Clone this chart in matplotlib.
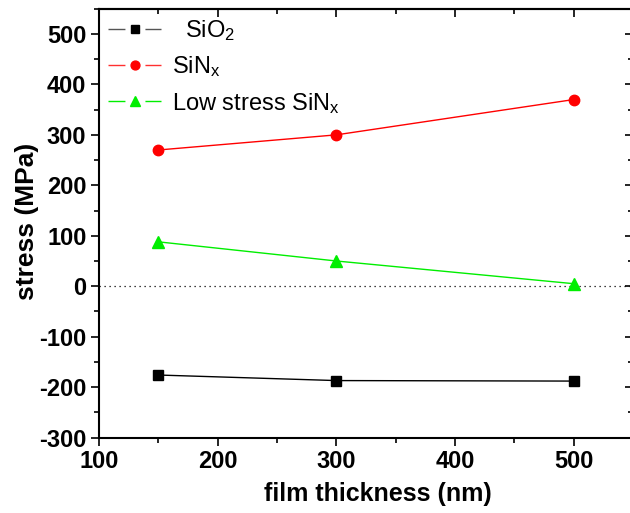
import numpy as np
import matplotlib
matplotlib.use("Agg")
import matplotlib.pyplot as plt
from matplotlib.ticker import MultipleLocator
from matplotlib.lines import Line2D
from matplotlib.legend_handler import HandlerTuple

plt.rcParams['font.family'] = ['Liberation Sans', 'DejaVu Sans']
plt.rcParams['mathtext.fontset'] = 'custom'
plt.rcParams['mathtext.rm'] = 'Liberation Sans'
plt.rcParams['mathtext.it'] = 'Liberation Sans'
plt.rcParams['axes.unicode_minus'] = False

# film thickness (nm)
thickness = [150, 300, 500]
# stress (MPa)
sio2 = [-176, -187, -188]
sinx = [270, 300, 370]
low_sinx = [88, 50, 5]

names = ['  SiO$_2$', 'SiN$_x$', 'Low stress SiN$_x$']
colors = ['black', 'red', '#00ee00']
markers = ['s', 'o', '^']
sizes = [6.5, 7.5, 8.5]

fig = plt.figure(figsize=(6.3, 5.13), dpi=100)
ax = fig.add_axes([0.157, 0.147, 0.848, 0.836])

ax.axhline(0, color='black', lw=0.9, ls=(0, (1, 3)))

for ys, c, m, s in zip([sio2, sinx, low_sinx], colors, markers, sizes):
    ax.plot(thickness, ys, color=c, lw=1, marker=m, ms=s, mec=c)

ax.set_xlim(100, 550)
ax.set_ylim(-300, 550)
ax.xaxis.set_major_locator(MultipleLocator(100))
ax.xaxis.set_minor_locator(MultipleLocator(50))
ax.yaxis.set_major_locator(MultipleLocator(100))
ax.yaxis.set_minor_locator(MultipleLocator(50))

# outward ticks on left/bottom, inward on top/right
ax.tick_params(which='both', direction='out', width=1.2, labelsize=17, pad=3)
ax.tick_params(which='major', length=6)
ax.tick_params(which='minor', length=3.5)
ax2 = ax.secondary_xaxis('top')
ax2.xaxis.set_major_locator(MultipleLocator(100))
ax2.xaxis.set_minor_locator(MultipleLocator(50))
ax2.tick_params(which='both', direction='in', width=1.2, labeltop=False)
ax2.tick_params(which='major', length=6)
ax2.tick_params(which='minor', length=3.5)
ay2 = ax.secondary_yaxis('right')
ay2.yaxis.set_major_locator(MultipleLocator(100))
ay2.yaxis.set_minor_locator(MultipleLocator(50))
ay2.tick_params(which='both', direction='in', width=1.2, labelright=False)
ay2.tick_params(which='major', length=6)
ay2.tick_params(which='minor', length=3.5)
for lab in ax.get_xticklabels() + ax.get_yticklabels():
    lab.set_fontweight('bold')
for s in ax.spines.values():
    s.set_linewidth(1.5)
ax2.spines['top'].set_linewidth(1.5)
ay2.spines['right'].set_linewidth(1.5)

ax.set_xlabel('film thickness (nm)', fontsize=18, fontweight='bold')
ax.set_ylabel('stress (MPa)', fontsize=19, fontweight='bold')
ax.xaxis.set_label_coords(0.522, -0.104)
ax.yaxis.set_label_coords(-0.113, 0.503)

# legend handles: line broken around the marker
handles = []
for c, m, s in zip(['#555555', '#ff3030', '#00ee00'], markers, sizes):
    seg = Line2D([], [], color=c, lw=1, ls=(0, (12.2, 14.4, 12)))
    dot = Line2D([], [], color=c, ls='none', marker=m, ms=s * 0.85,
                 mfc=colors[len(handles)], mec=colors[len(handles)])
    handles.append((seg, dot))
ax.legend(handles, names, loc='upper left', frameon=False, fontsize=17,
          handlelength=2.25, borderaxespad=0.1, borderpad=0.3,
          labelspacing=0.48, handletextpad=0.45,
          handler_map={tuple: HandlerTuple(ndivide=1)})

fig.savefig('out.png', dpi=100)
